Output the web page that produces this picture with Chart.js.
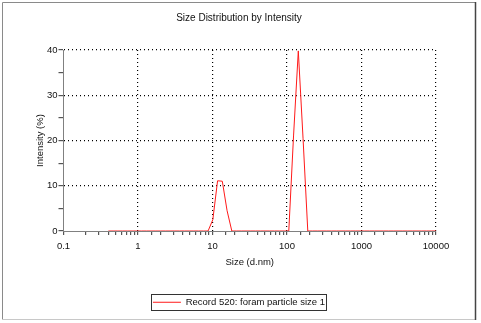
<!DOCTYPE html>
<html>
<head>
<meta charset="utf-8">
<script src="https://cdn.jsdelivr.net/npm/chart.js@4.4.1/dist/chart.umd.min.js"></script>
<style>
  html, body { margin: 0; padding: 0; background: #fff; }
  #wrap { width: 481px; height: 323px; position: relative; }
</style>
</head>
<body>
<div id="wrap"><canvas id="c" width="481" height="323"></canvas></div>
<script>
// Size bins (d.nm)
const sizes = [0.4000, 0.4632, 0.5365, 0.6213, 0.7195, 0.8332, 0.9649, 1.117, 1.294, 1.499,
  1.736, 2.010, 2.328, 2.696, 3.122, 3.615, 4.187, 4.849, 5.615, 6.503,
  7.531, 8.721, 10.10, 11.70, 13.54, 15.69, 18.17, 21.04, 24.36, 28.21,
  32.67, 37.84, 43.82, 50.75, 58.77, 68.06, 78.82, 91.28, 105.7, 122.4,
  141.8, 164.2, 190.1, 220.2, 255.0, 295.3, 342.0, 396.1, 458.7, 531.2,
  615.1, 712.4, 825.0, 955.4, 1106, 1281, 1484, 1718, 1990, 2305,
  2669, 3091, 3580, 4145, 4801, 5560, 6439, 7456, 8635, 10000];
// Intensity (%)
const intensity = [0, 0, 0, 0, 0, 0, 0, 0, 0, 0,
  0, 0, 0, 0, 0, 0, 0, 0, 0, 0,
  0, 0, 2.5, 11.1, 11.0, 4.5, 0, 0, 0, 0,
  0, 0, 0, 0, 0, 0, 0, 0, 0, 21.0,
  39.8, 20.5, 0, 0, 0, 0, 0, 0, 0, 0,
  0, 0, 0, 0, 0, 0, 0, 0, 0, 0,
  0, 0, 0, 0, 0, 0, 0, 0, 0, 0];
const xTickLabels = [0.1, 1, 10, 100, 1000, 10000];
const yTickLabels = [0, 10, 20, 30, 40];
const seriesName = 'Record 520: foram particle size 1';
const chartTitle = 'Size Distribution by Intensity';
const xTitle = 'Size (d.nm)';
const yTitle = 'Intensity (%)';

const FONT = "'Liberation Sans Narrow', 'Arial Narrow', 'Liberation Sans', Arial, sans-serif";
const points = sizes.map((s, i) => ({ x: s, y: intensity[i] }));

const framePlugin = {
  id: 'frame',
  beforeDraw(chart) {
    const ctx = chart.ctx;
    ctx.save();
    ctx.fillStyle = '#fff';
    ctx.fillRect(0, 0, chart.width, chart.height);
    ctx.restore();
  },
  afterDraw(chart) {
    const ctx = chart.ctx;
    ctx.save();
    ctx.lineWidth = 1;
    ctx.strokeStyle = '#8a8a8a';
    ctx.beginPath();
    ctx.moveTo(2.5, 319.5); ctx.lineTo(2.5, 2.5); ctx.lineTo(475.5, 2.5);
    ctx.stroke();
    ctx.strokeStyle = '#c8c8c8';
    ctx.beginPath();
    ctx.moveTo(2.5, 319.5); ctx.lineTo(475.5, 319.5);
    ctx.stroke();
    ctx.strokeStyle = '#444';
    ctx.lineWidth = 1.5;
    ctx.beginPath();
    ctx.moveTo(475.5, 2); ctx.lineTo(475.5, 320);
    ctx.stroke();
    // legend border
    const lg = chart.legend;
    if (lg && lg.legendHitBoxes && lg.legendHitBoxes.length) {
      const hb = lg.legendHitBoxes[0];
      const cy = hb.top + hb.height / 2;
      ctx.strokeStyle = '#333';
      ctx.lineWidth = 1;
      ctx.strokeRect(Math.round(hb.left - 2) + 0.5, Math.round(cy - 8) + 0.5,
        Math.round(hb.width + 3), 16);
    }
    ctx.restore();
  }
};

new Chart(document.getElementById('c'), {
  type: 'line',
  data: {
    datasets: [{
      label: seriesName,
      data: points,
      borderColor: '#ff1a1a',
      backgroundColor: '#ff1a1a',
      borderWidth: 1,
      pointRadius: 0,
      tension: 0,
      fill: false
    }]
  },
  options: {
    responsive: false,
    animation: false,
    devicePixelRatio: 1,
    layout: { padding: { left: 42, right: 45, top: 0, bottom: 6 } },
    plugins: {
      title: {
        display: true,
        text: chartTitle,
        color: '#111',
        font: { family: FONT, size: 10, weight: 'normal', lineHeight: 1.2 },
        padding: { top: 12.4, bottom: 25.6 }
      },
      legend: {
        display: true,
        position: 'bottom',
        labels: {
          color: '#111',
          font: { family: FONT, size: 9.5 },
          usePointStyle: true,
          pointStyle: 'line',
          pointStyleWidth: 28,
          boxHeight: 9.5,
          padding: 26.5
        }
      },
      tooltip: { enabled: false }
    },
    scales: {
      x: {
        type: 'logarithmic',
        min: 0.1,
        max: 10000,
        afterFit(scale) { scale.height = 40; },
        border: { display: true, color: '#808080', width: 1, dash: [1, 3] },
        grid: {
          color: (ctx) => (ctx.tick && ctx.tick.major && ctx.tick.value > 0.1) ? '#000' : 'rgba(0,0,0,0)',
          lineWidth: 1.2,
          tickColor: '#555',
          tickLength: 4,
          drawTicks: true
        },
        ticks: {
          autoSkip: false,
          maxRotation: 0,
          minRotation: 0,
          padding: 6,
          color: '#111',
          font: { family: FONT, size: 9.5 },
          callback: (v) => xTickLabels.includes(v) ? String(v) : ''
        },
        title: {
          display: true,
          text: xTitle,
          color: '#111',
          font: { family: FONT, size: 9.5 },
          padding: { top: 0, bottom: 3.3 }
        }
      },
      y: {
        type: 'linear',
        min: 0,
        max: 40,
        afterFit(scale) { scale.width = 21.5; },
        border: { display: true, color: '#808080', width: 1, dash: [1, 3] },
        grid: {
          color: (ctx) => (ctx.tick && ctx.tick.value > 0 && ctx.tick.value % 10 === 0) ? '#000' : 'rgba(0,0,0,0)',
          lineWidth: 1.2,
          tickColor: '#555',
          tickLength: 5,
          drawTicks: true
        },
        ticks: {
          stepSize: 5,
          autoSkip: false,
          padding: 1,
          color: '#111',
          font: { family: FONT, size: 9.5 },
          callback: (v) => yTickLabels.includes(v) ? String(v) : ''
        },
        title: {
          display: true,
          text: yTitle,
          color: '#111',
          font: { family: FONT, size: 9.5 },
          padding: { top: -7.2, bottom: 0 }
        }
      }
    }
  },
  plugins: [framePlugin]
});
</script>
</body>
</html>
